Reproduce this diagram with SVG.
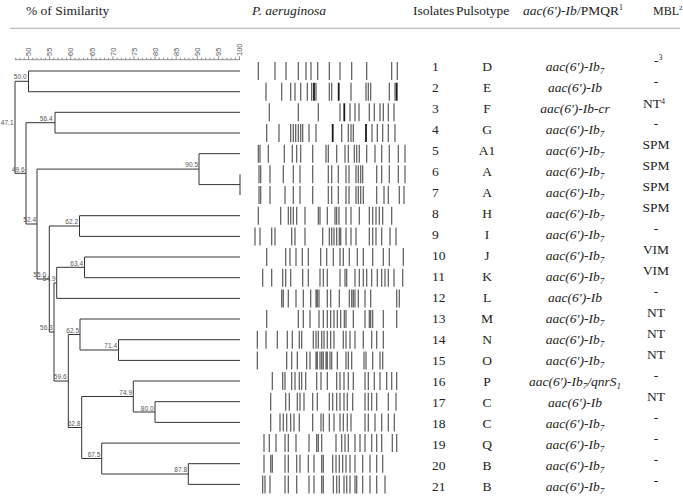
<svg xmlns="http://www.w3.org/2000/svg" width="683" height="498" viewBox="0 0 683 498">
<style>
.h{font-family:"Liberation Serif","Times New Roman",serif;font-size:13.5px;fill:#222}
.i{font-style:italic}
.sub{font-size:9px}
.sup{font-size:8px}
.dn{stroke:#333;stroke-width:1;fill:none}
.nl{font-family:"Liberation Sans",Arial,sans-serif;font-size:6.5px;fill:#555}
.ax{stroke:#777;stroke-width:0.8;fill:none}
.al{font-family:"Liberation Sans",Arial,sans-serif;font-size:7.5px;fill:#555}
.b{stroke:#5a5a5a;stroke-width:1.2;fill:none}
.d{stroke:#1a1a1a;stroke-width:1.8;fill:none}
</style>
<rect width="683" height="498" fill="#fff"/>

<g id="header">
<text class="h" x="26" y="15">% of Similarity</text>
<text class="h i" x="252" y="15">P. aeruginosa</text>
<text class="h" x="413" y="15">Isolates</text>
<text class="h" x="456" y="15">Pulsotype</text>
<text class="h" x="523" y="15"><tspan class="i">aac(6')-Ib</tspan>/PMQR<tspan class="sup" dy="-5">1</tspan></text>
<text class="h" x="653" y="15" style="font-size:12px">MBL<tspan style="font-size:7px" dy="-5">2</tspan></text>
<line x1="10" y1="28.3" x2="680" y2="28.3" stroke="#aaa" stroke-width="1"/>
</g>

<g id="scale">
<path class="ax" d="M15 59.7H240"/>
<path class="ax" d="M15.84 57.7v2M20.06 57.7v2M24.28 57.7v2M32.72 57.7v2M36.94 57.7v2M41.16 57.7v2M45.38 57.7v2M53.82 57.7v2M58.04 57.7v2M62.26 57.7v2M66.48 57.7v2M74.92 57.7v2M79.14 57.7v2M83.36 57.7v2M87.58 57.7v2M96.02 57.7v2M100.24 57.7v2M104.46 57.7v2M108.68 57.7v2M117.12 57.7v2M121.34 57.7v2M125.56 57.7v2M129.78 57.7v2M138.22 57.7v2M142.44 57.7v2M146.66 57.7v2M150.88 57.7v2M159.32 57.7v2M163.54 57.7v2M167.76 57.7v2M171.98 57.7v2M180.42 57.7v2M184.64 57.7v2M188.86 57.7v2M193.08 57.7v2M201.52 57.7v2M205.74 57.7v2M209.96 57.7v2M214.18 57.7v2M222.62 57.7v2M226.84 57.7v2M231.06 57.7v2M235.28 57.7v2"/>
<path class="ax" d="M28.5 56.2v3.5M49.6 56.2v3.5M70.7 56.2v3.5M91.8 56.2v3.5M112.9 56.2v3.5M134 56.2v3.5M155.1 56.2v3.5M176.2 56.2v3.5M197.3 56.2v3.5M218.4 56.2v3.5M239.5 56.2v3.5"/>
<text class="al" transform="translate(31.2,56) rotate(-90)">50</text>
<text class="al" transform="translate(52.3,56) rotate(-90)">55</text>
<text class="al" transform="translate(73.4,56) rotate(-90)">60</text>
<text class="al" transform="translate(94.5,56) rotate(-90)">65</text>
<text class="al" transform="translate(115.6,56) rotate(-90)">70</text>
<text class="al" transform="translate(136.7,56) rotate(-90)">75</text>
<text class="al" transform="translate(157.8,56) rotate(-90)">80</text>
<text class="al" transform="translate(178.9,56) rotate(-90)">85</text>
<text class="al" transform="translate(200,56) rotate(-90)">90</text>
<text class="al" transform="translate(221.1,56) rotate(-90)">95</text>
<text class="al" transform="translate(242.2,56) rotate(-90)">100</text>
</g>

<g id="connectors">
<path class="dn" d="M28.5 71H240M28.5 91.7H240M55 112.3H240M55 133H240M199 153.7H240M199 184.6H240M240 174.3V195M79.5 215.7H240M79.5 236.4H240M84.5 257H240M84.5 277.7H240M56.7 298.4H240M80 319H240M118.5 339.7H240M118.5 360.4H240M133.3 381H240M155 401.7H240M155 422.4H240M101.7 443.1H240M188.3 463.7H240M188.3 484.4H240"/>
<path class="dn" d="M28.5 71V91.7M15 81.3H28.5M55 112.3V133M26 122.7H55M199 153.7V184.6M37 169.1H199M79.5 215.7V236.4M49.3 226H79.5M84.5 257V277.7M56.7 267.3H84.5M56.7 267.3V298.4M54 282.9H56.7M118.5 339.7V360.4M80 350H118.5M80 319V350M68.3 334.5H80M155 401.7V422.4M133.3 412H155M133.3 381V412M81.7 396.5H133.3M188.3 463.7V484.4M101.7 474H188.3M101.7 443.1V474M81.7 458.5H101.7M81.7 396.5V458.5M68.3 427.5H81.7M68.3 334.5V427.5M54 381H68.3M54 282.9V381M49.3 332H54M49.3 226V332M37 279H49.3M37 169.1V279M26 224H37M26 122.7V224M15 173.3H26M15 81.3V173.3"/>
<g class="nl" text-anchor="end">
<text x="26.5" y="79">50.0</text>
<text x="13.5" y="125">47.1</text>
<text x="52.5" y="120.5">56.4</text>
<text x="24.5" y="171.5">49.6</text>
<text x="198" y="166.8">90.5</text>
<text x="36" y="221.7">52.4</text>
<text x="78" y="224">62.2</text>
<text x="83" y="265.5">63.4</text>
<text x="46" y="276.5">55.0</text>
<text x="55.5" y="281">54.9</text>
<text x="52.7" y="330">56.3</text>
<text x="79" y="332.7">62.5</text>
<text x="117" y="348.3">71.4</text>
<text x="66.5" y="379.3">59.6</text>
<text x="132" y="395">74.9</text>
<text x="153.5" y="410.5">80.0</text>
<text x="80.3" y="425.5">62.8</text>
<text x="100.3" y="456.8">67.5</text>
<text x="187" y="472">87.8</text>
</g>
</g>

<g id="isolate-1">
<path class="b" transform="translate(0,62)" d="M258.3 0v18M275 0v18M286 0v18M298.3 0v18M306 0v18M311 0v18M317.7 0v18M329.3 0v18M340 0v18M351.7 0v18M366.7 0v18M391.7 0v18M397.3 0v18"/>
<text class="h" x="432" y="71">1</text>
<text class="h" x="487" y="71" text-anchor="middle">D</text>
<text class="h i" x="575" y="71" text-anchor="middle">aac(6')-Ib<tspan class="sub" dy="3">7</tspan></text>
<text class="h" x="654" y="65">-<tspan class="sup" dy="-5">3</tspan></text>
</g>
<g id="isolate-2">
<path class="b" transform="translate(0,82.7)" d="M266 0v18M281.7 0v18M290.7 0v18M295 0v18M300.7 0v18M307.3 0v18M311.7 0v18M316 0v18M329.3 0v18M331.7 0v18M351 0v18M366 0v18M368.3 0v18M370.7 0v18M389.3 0v18M395 0v18"/>
<path class="d" transform="translate(0,82.7)" d="M314 0v18M338.7 0v18M396.7 0v18"/>
<text class="h" x="432" y="92">2</text>
<text class="h" x="487" y="92" text-anchor="middle">E</text>
<text class="h i" x="575" y="92" text-anchor="middle">aac(6')-Ib</text>
<text class="h" x="656" y="86" text-anchor="middle">-</text>
</g>
<g id="isolate-3">
<path class="b" transform="translate(0,103.3)" d="M269.3 0v18M298.3 0v18M318.3 0v18M340 0v18M350 0v18M355 0v18M359 0v18M369.3 0v18M374.3 0v18M380 0v18M383.3 0v18M388.3 0v18M394 0v18"/>
<path class="d" transform="translate(0,103.3)" d="M344.3 0v18"/>
<text class="h" x="432" y="113">3</text>
<text class="h" x="487" y="113" text-anchor="middle">F</text>
<text class="h i" x="575" y="113" text-anchor="middle">aac(6')-Ib-cr</text>
<text class="h" x="643" y="108">NT<tspan class="sup" dy="-4">4</tspan></text>
</g>
<g id="isolate-4">
<path class="b" transform="translate(0,124)" d="M266.7 0v18M279 0v18M290.7 0v18M293.3 0v18M295.7 0v18M298.3 0v18M300.7 0v18M302.7 0v18M309 0v18M316 0v18M341.7 0v18M348.3 0v18M351 0v18M353.3 0v18M372 0v18M377.3 0v18M382.7 0v18M388.3 0v18M395 0v18"/>
<path class="d" transform="translate(0,124)" d="M332.7 0v18M366 0v18" stroke-width="2.4"/>
<text class="h" x="432" y="134">4</text>
<text class="h" x="487" y="134" text-anchor="middle">G</text>
<text class="h i" x="575" y="134" text-anchor="middle">aac(6')-Ib<tspan class="sub" dy="3">7</tspan></text>
<text class="h" x="656" y="128" text-anchor="middle">-</text>
</g>
<g id="isolate-5">
<path class="b" transform="translate(0,144.7)" d="M258.3 0v18M260 0v18M268.3 0v18M284.3 0v18M292.3 0v18M296.7 0v18M300.7 0v18M312.7 0v18M326 0v18M328.3 0v18M336.7 0v18M345 0v18M348.3 0v18M354.3 0v18M356.7 0v18M359.3 0v18M366.7 0v18M375 0v18M381.7 0v18M389.3 0v18M398.3 0v18M405 0v18"/>
<text class="h" x="432" y="155">5</text>
<text class="h" x="487" y="155" text-anchor="middle">A1</text>
<text class="h i" x="575" y="155" text-anchor="middle">aac(6')-Ib<tspan class="sub" dy="3">7</tspan></text>
<text class="h" x="656" y="149" text-anchor="middle">SPM</text>
</g>
<g id="isolate-6">
<path class="b" transform="translate(0,165.3)" d="M259 0v18M260.7 0v18M270 0v18M283.3 0v18M293.3 0v18M300 0v18M312.7 0v18M328.3 0v18M331.7 0v18M338.3 0v18M346 0v18M349 0v18M356 0v18M358.3 0v18M360.7 0v18M362.7 0v18M376.7 0v18M381.7 0v18M389.3 0v18M398.3 0v18M405 0v18"/>
<text class="h" x="432" y="176">6</text>
<text class="h" x="487" y="176" text-anchor="middle">A</text>
<text class="h i" x="575" y="176" text-anchor="middle">aac(6')-Ib<tspan class="sub" dy="3">7</tspan></text>
<text class="h" x="656" y="170" text-anchor="middle">SPM</text>
</g>
<g id="isolate-7">
<path class="b" transform="translate(0,186)" d="M259 0v18M260.7 0v18M270 0v18M285 0v18M293.3 0v18M300 0v18M312.7 0v18M328.3 0v18M331.7 0v18M338.3 0v18M346 0v18M349 0v18M356 0v18M358.3 0v18M360.7 0v18M363.3 0v18M376.7 0v18M384 0v18M388.3 0v18M399.3 0v18M404 0v18"/>
<text class="h" x="432" y="197">7</text>
<text class="h" x="487" y="197" text-anchor="middle">A</text>
<text class="h i" x="575" y="197" text-anchor="middle">aac(6')-Ib<tspan class="sub" dy="3">7</tspan></text>
<text class="h" x="656" y="191" text-anchor="middle">SPM</text>
</g>
<g id="isolate-8">
<path class="b" transform="translate(0,206.7)" d="M258.3 0v18M280.7 0v18M288.3 0v18M290.7 0v18M293.3 0v18M296.7 0v18M305 0v18M318.3 0v18M320 0v18M327.3 0v18M335 0v18M336.7 0v18M339 0v18M346 0v18M351 0v18M359.3 0v18M369.3 0v18M372.7 0v18M376 0v18M379.3 0v18M382.7 0v18M391.7 0v18"/>
<text class="h" x="432" y="218">8</text>
<text class="h" x="487" y="218" text-anchor="middle">H</text>
<text class="h i" x="575" y="218" text-anchor="middle">aac(6')-Ib<tspan class="sub" dy="3">7</tspan></text>
<text class="h" x="656" y="212" text-anchor="middle">SPM</text>
</g>
<g id="isolate-9">
<path class="b" transform="translate(0,227.4)" d="M255 0v18M260 0v18M271.7 0v18M275 0v18M291.7 0v18M295 0v18M305 0v18M322.7 0v18M329.3 0v18M331.7 0v18M334 0v18M336.7 0v18M339.3 0v18M340.7 0v18M346 0v18M351 0v18M356 0v18M369.3 0v18M372.7 0v18M376 0v18M381.7 0v18M390 0v18M396 0v18"/>
<text class="h" x="432" y="239">9</text>
<text class="h" x="487" y="239" text-anchor="middle">I</text>
<text class="h i" x="575" y="239" text-anchor="middle">aac(6')-Ib<tspan class="sub" dy="3">7</tspan></text>
<text class="h" x="656" y="233" text-anchor="middle">-</text>
</g>
<g id="isolate-10">
<path class="b" transform="translate(0,248)" d="M266.7 0v18M285.7 0v18M290 0v18M296 0v18M302.3 0v18M308.3 0v18M320.7 0v18M326.7 0v18M333.3 0v18M340 0v18M343.3 0v18M349.3 0v18M357.3 0v18M363.3 0v18M372.7 0v18M383.3 0v18M389.3 0v18M403.3 0v18"/>
<text class="h" x="432" y="260">10</text>
<text class="h" x="487" y="260" text-anchor="middle">J</text>
<text class="h i" x="575" y="260" text-anchor="middle">aac(6')-Ib<tspan class="sub" dy="3">7</tspan></text>
<text class="h" x="656" y="254" text-anchor="middle">VIM</text>
</g>
<g id="isolate-11">
<path class="b" transform="translate(0,268.7)" d="M262.7 0v18M271.7 0v18M282.7 0v18M285.7 0v18M290.7 0v18M302.7 0v18M308.3 0v18M320 0v18M323.3 0v18M327.3 0v18M340 0v18M345 0v18M346.7 0v18M355 0v18M359.3 0v18M363.3 0v18M366.7 0v18M371.7 0v18M377.3 0v18M381.7 0v18M385 0v18M388.3 0v18M394 0v18M402.7 0v18"/>
<text class="h" x="432" y="281">11</text>
<text class="h" x="487" y="281" text-anchor="middle">K</text>
<text class="h i" x="575" y="281" text-anchor="middle">aac(6')-Ib<tspan class="sub" dy="3">7</tspan></text>
<text class="h" x="656" y="275" text-anchor="middle">VIM</text>
</g>
<g id="isolate-12">
<path class="b" transform="translate(0,289.4)" d="M281.7 0v18M283.3 0v18M288.3 0v18M296 0v18M303.3 0v18M310.7 0v18M316 0v18M317.3 0v18M319 0v18M327.3 0v18M330.7 0v18M339.3 0v18M349.3 0v18M351.7 0v18M353.3 0v18M355 0v18M358.3 0v18M365 0v18M370.7 0v18M396.7 0v18M399.3 0v18"/>
<text class="h" x="432" y="302">12</text>
<text class="h" x="487" y="302" text-anchor="middle">L</text>
<text class="h i" x="575" y="302" text-anchor="middle">aac(6')-Ib</text>
<text class="h" x="656" y="296" text-anchor="middle">-</text>
</g>
<g id="isolate-13">
<path class="b" transform="translate(0,310)" d="M266.7 0v18M298.3 0v18M303.3 0v18M310 0v18M319 0v18M323.3 0v18M327.3 0v18M330.7 0v18M334 0v18M337.3 0v18M340.7 0v18M344.3 0v18M346 0v18M353.3 0v18M365 0v18M369.3 0v18M370.7 0v18M372.7 0v18M383.3 0v18M396.7 0v18"/>
<text class="h" x="432" y="323">13</text>
<text class="h" x="487" y="323" text-anchor="middle">M</text>
<text class="h i" x="575" y="323" text-anchor="middle">aac(6')-Ib<tspan class="sub" dy="3">7</tspan></text>
<text class="h" x="656" y="317" text-anchor="middle">NT</text>
</g>
<g id="isolate-14">
<path class="b" transform="translate(0,330.7)" d="M257.3 0v18M266 0v18M277.3 0v18M287.3 0v18M292.3 0v18M299.3 0v18M301.7 0v18M313.3 0v18M316 0v18M318.3 0v18M321.7 0v18M324 0v18M327.3 0v18M330.7 0v18M334 0v18M343.3 0v18M346 0v18M350 0v18M355 0v18M363.3 0v18M371.7 0v18M376.7 0v18M383.3 0v18"/>
<text class="h" x="432" y="344">14</text>
<text class="h" x="487" y="344" text-anchor="middle">N</text>
<text class="h i" x="575" y="344" text-anchor="middle">aac(6')-Ib<tspan class="sub" dy="3">7</tspan></text>
<text class="h" x="656" y="338" text-anchor="middle">NT</text>
</g>
<g id="isolate-15">
<path class="b" transform="translate(0,351.4)" d="M257.3 0v18M286.7 0v18M291.7 0v18M297.3 0v18M306.7 0v18M310 0v18M316 0v18M317.3 0v18M320 0v18M321.7 0v18M323.3 0v18M326 0v18M327.3 0v18M330 0v18M331.7 0v18M337.3 0v18M346 0v18M348.3 0v18M351.7 0v18M364 0v18M366 0v18M372.7 0v18M380 0v18M382.7 0v18"/>
<text class="h" x="432" y="365">15</text>
<text class="h" x="487" y="365" text-anchor="middle">O</text>
<text class="h i" x="575" y="365" text-anchor="middle">aac(6')-Ib<tspan class="sub" dy="3">7</tspan></text>
<text class="h" x="656" y="359" text-anchor="middle">NT</text>
</g>
<g id="isolate-16">
<path class="b" transform="translate(0,372)" d="M272.3 0v18M282.7 0v18M285 0v18M291.7 0v18M295 0v18M299.3 0v18M301.7 0v18M305.7 0v18M316.7 0v18M321 0v18M327.3 0v18M336.7 0v18M340 0v18M344 0v18M348.3 0v18M353.3 0v18M365 0v18M368.3 0v18M374.3 0v18M380 0v18M386.7 0v18M391.7 0v18M396.7 0v18"/>
<text class="h" x="432" y="386">16</text>
<text class="h" x="487" y="386" text-anchor="middle">P</text>
<text class="h i" x="575" y="386" text-anchor="middle">aac(6')-Ib<tspan class="sub" dy="3">7</tspan><tspan dy="-3">/qnrS</tspan><tspan class="sub" dy="3">1</tspan></text>
<text class="h" x="656" y="380" text-anchor="middle">-</text>
</g>
<g id="isolate-17">
<path class="b" transform="translate(0,392.7)" d="M270.7 0v18M285.7 0v18M289.3 0v18M297.3 0v18M300 0v18M304 0v18M312.7 0v18M317.3 0v18M329.3 0v18M332.7 0v18M336.7 0v18M340 0v18M344 0v18M347.3 0v18M352.7 0v18M365 0v18M368.3 0v18M371.7 0v18M376.7 0v18M388.3 0v18M396 0v18"/>
<text class="h" x="432" y="407">17</text>
<text class="h" x="487" y="407" text-anchor="middle">C</text>
<text class="h i" x="575" y="407" text-anchor="middle">aac(6')-Ib</text>
<text class="h" x="656" y="401" text-anchor="middle">NT</text>
</g>
<g id="isolate-18">
<path class="b" transform="translate(0,413.4)" d="M270.7 0v18M280 0v18M283.3 0v18M286.7 0v18M290.7 0v18M294 0v18M299.3 0v18M312.7 0v18M321 0v18M323.3 0v18M329.3 0v18M334 0v18M340 0v18M343.3 0v18M347.3 0v18M351 0v18M365 0v18M368.3 0v18M375 0v18M381.7 0v18M388.3 0v18M394.3 0v18"/>
<text class="h" x="432" y="428">18</text>
<text class="h" x="487" y="428" text-anchor="middle">C</text>
<text class="h i" x="575" y="428" text-anchor="middle">aac(6')-Ib<tspan class="sub" dy="3">7</tspan></text>
<text class="h" x="656" y="422" text-anchor="middle">-</text>
</g>
<g id="isolate-19">
<path class="b" transform="translate(0,434.1)" d="M264 0v18M269.3 0v18M276 0v18M285 0v18M288.3 0v18M296 0v18M309 0v18M316.7 0v18M318.3 0v18M321.7 0v18M336 0v18M341.7 0v18M345 0v18M348.3 0v18M355 0v18M360 0v18M365 0v18M371.7 0v18M376.7 0v18M381.7 0v18M392.3 0v18M396.7 0v18"/>
<text class="h" x="432" y="449">19</text>
<text class="h" x="487" y="449" text-anchor="middle">Q</text>
<text class="h i" x="575" y="449" text-anchor="middle">aac(6')-Ib<tspan class="sub" dy="3">7</tspan></text>
<text class="h" x="656" y="443" text-anchor="middle">-</text>
</g>
<g id="isolate-20">
<path class="b" transform="translate(0,454.7)" d="M264 0v18M270.7 0v18M272.3 0v18M285 0v18M288.3 0v18M296.7 0v18M300 0v18M308.3 0v18M314 0v18M321.7 0v18M323.3 0v18M332.7 0v18M336 0v18M339.3 0v18M342.7 0v18M346 0v18M350 0v18M355 0v18M362.7 0v18M370 0v18M376.7 0v18M382.7 0v18"/>
<text class="h" x="432" y="470">20</text>
<text class="h" x="487" y="470" text-anchor="middle">B</text>
<text class="h i" x="575" y="470" text-anchor="middle">aac(6')-Ib<tspan class="sub" dy="3">7</tspan></text>
<text class="h" x="656" y="464" text-anchor="middle">-</text>
</g>
<g id="isolate-21">
<path class="b" transform="translate(0,475.4)" d="M262.7 0v18M265 0v18M270 0v18M285 0v18M288.3 0v18M296.7 0v18M309 0v18M314 0v18M321.7 0v18M323.3 0v18M333.3 0v18M336.7 0v18M339.3 0v18M344 0v18M346.7 0v18M350 0v18M355 0v18M356.7 0v18M362.7 0v18M370 0v18M376.7 0v18M385 0v18"/>
<text class="h" x="432" y="491">21</text>
<text class="h" x="487" y="491" text-anchor="middle">B</text>
<text class="h i" x="575" y="491" text-anchor="middle">aac(6')-Ib<tspan class="sub" dy="3">7</tspan></text>
<text class="h" x="656" y="485" text-anchor="middle">-</text>
</g>
</svg>
